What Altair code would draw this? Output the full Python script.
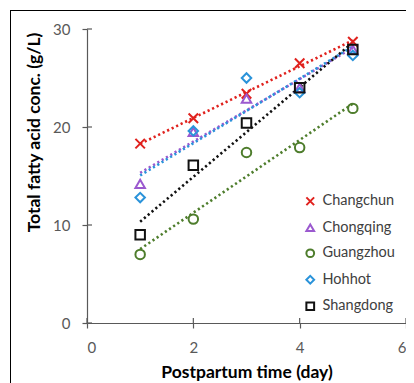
import altair as alt
import pandas as pd

days = [1, 2, 3, 4, 5]
cities = ["Changchun", "Chongqing", "Guangzhou", "Hohhot", "Shangdong"]
changchun = [18.3, 20.9, 23.4, 26.5, 28.7]
chongqing = [14.2, 19.5, 22.9, 24.0, 27.9]
guangzhou = [7.0, 10.6, 17.4, 17.9, 21.9]
hohhot = [12.8, 19.6, 25.0, 23.5, 27.3]
shangdong = [9.0, 16.1, 20.4, 24.0, 27.9]
x_ticks = [0, 2, 4, 6]
y_ticks = [0, 10, 20, 30]

colors = ["#E0211D", "#9B59CF", "#4E7D2C", "#2A93DA", "#111111"]
shapes = ["M-1,-1L1,1M-1,1L1,-1", "triangle-up", "circle", "diamond", "square"]

rows = []
for city, vals in zip(cities, [changchun, chongqing, guangzhou, hohhot, shangdong]):
    for d, v in zip(days, vals):
        rows.append({"city": city, "day": d, "value": v})
df = pd.DataFrame(rows)

W, H = 319, 294
XT = "Postpartum time (day)"
YT = "Total fatty acid conc. (g/L)"
xscale = alt.Scale(domain=[0, 6], nice=False, zero=False)
yscale = alt.Scale(domain=[0, 30], nice=False, zero=False)

leg = alt.Legend(title=None, orient="none", legendX=216, legendY=165,
                 labelFontSize=14.5, labelColor="#404040", labelFont="Lato",
                 symbolSize=60, symbolStrokeWidth=2, rowPadding=9.5,
                 labelOffset=5, symbolType="circle")

color_enc = alt.Color("city:N", scale=alt.Scale(domain=cities, range=colors), legend=leg)

base = alt.Chart(df)

points = base.mark_point(filled=False, size=90, strokeWidth=2, opacity=1).encode(
    x=alt.X("day:Q", scale=xscale, title=XT, axis=alt.Axis(values=x_ticks)),
    y=alt.Y("value:Q", scale=yscale, title=YT, axis=alt.Axis(values=y_ticks)),
    color=color_enc,
    shape=alt.Shape("city:N", scale=alt.Scale(domain=cities, range=shapes), legend=leg),
)

trend = base.transform_regression(
    "day", "value", groupby=["city"], extent=[1, 5]
).mark_line(strokeDash=[2.2, 2.8], strokeWidth=2.6).encode(
    x=alt.X("day:Q", scale=xscale, title=XT),
    y=alt.Y("value:Q", scale=yscale, title=YT),
    color=color_enc,
)

ytick_in = alt.Chart(pd.DataFrame({"value": y_ticks})).mark_rule(
    color="#595959", strokeWidth=1.2
).encode(
    y=alt.Y("value:Q", scale=yscale, title=YT),
    x=alt.value(0), x2=alt.value(5),
)
xtick_in = alt.Chart(pd.DataFrame({"day": x_ticks})).mark_rule(
    color="#595959", strokeWidth=1.2
).encode(
    x=alt.X("day:Q", scale=xscale, title=XT),
    y=alt.value(H - 5), y2=alt.value(H),
)

frame = pd.DataFrame({"a": [0]})
border_top = alt.Chart(frame).mark_rule(color="#000000", strokeWidth=1).encode(
    x=alt.value(-77), x2=alt.value(W + 10), y=alt.value(-18.5)
)
border_left = alt.Chart(frame).mark_rule(color="#000000", strokeWidth=1).encode(
    x=alt.value(-76.5), y=alt.value(-19), y2=alt.value(H + 70)
)

chart = alt.layer(trend, points, ytick_in, xtick_in, border_top, border_left).properties(
    width=W, height=H,
    autosize=alt.AutoSizeParams(type="none"),
    padding={"left": 79, "top": 21, "right": 0, "bottom": 60},
).configure_view(stroke=None).configure_axis(
    grid=False,
    domainColor="#595959", domainWidth=1.2,
    tickColor="#595959", tickWidth=1.2, tickSize=5,
    labelColor="#595959", labelFontSize=15, labelFont="Lato",
    labelPadding=12,
    titleFont="Lato", titleFontSize=17.5, titleFontWeight="bold", titleColor="#000000",
).configure_axisY(titlePadding=9, titleY=103).configure_axisX(titlePadding=8)

chart.save("out.html", embed_options={"renderer": "svg", "actions": False})
